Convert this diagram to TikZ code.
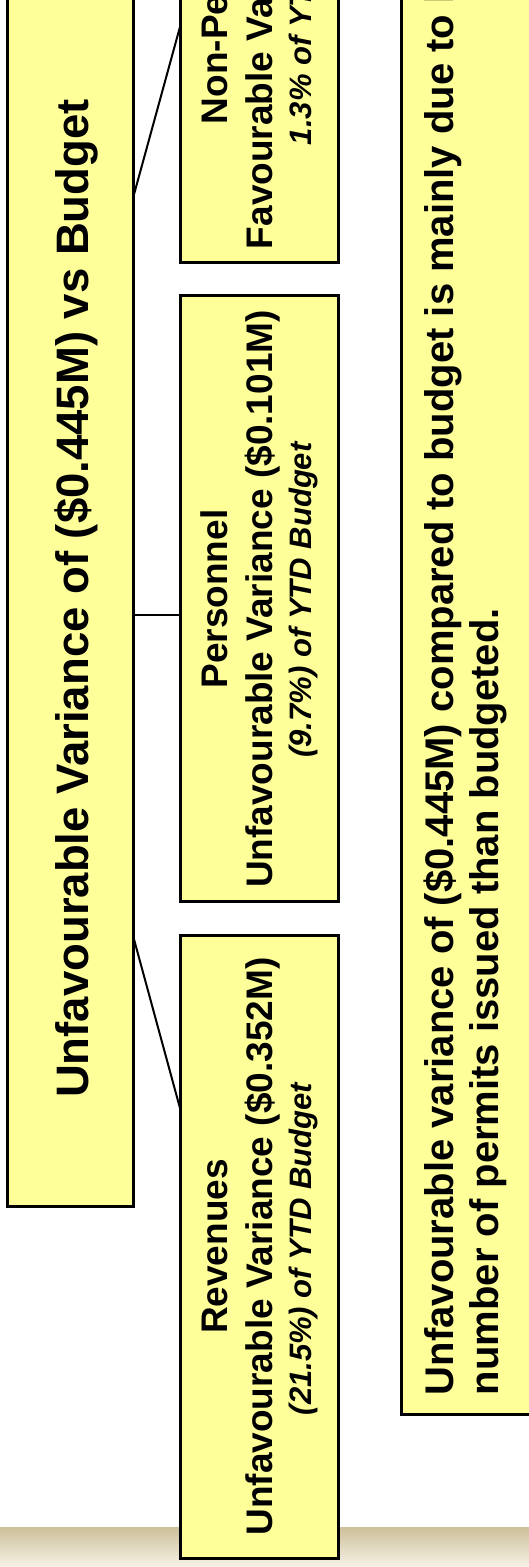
\documentclass[tikz,border=0pt]{standalone}
\usepackage{fontspec}
\setmainfont{Liberation Sans}
\definecolor{boxyellow}{RGB}{255,255,153}
\definecolor{bandtop}{RGB}{205,191,153}
\definecolor{bandbot}{RGB}{246,242,231}
\begin{document}
\begin{tikzpicture}[x=1pt,y=-1pt,
  box/.style={draw=black, line width=3pt, fill=boxyellow, inner sep=0pt, outer sep=0pt},
  conn/.style={draw=black, line width=2pt},
  txt/.style={rotate=90, inner sep=0pt, outer sep=0pt, text=black},
  titletxt/.style={txt, font=\fontsize{45.5}{50}\selectfont\bfseries},
  childb/.style={txt, font=\fontsize{37}{42}\selectfont\bfseries},
  childi/.style={txt, font=\fontsize{31}{35}\selectfont\bfseries\itshape},
  notetxt/.style={txt, font=\fontsize{40}{45}\selectfont\bfseries}]
\useasboundingbox (0,0) rectangle (529,1567);
\clip (0,0) rectangle (529,1567);
% background band
\fill[top color=bandtop, bottom color=bandbot, draw=none] (0,1527) rectangle (529,1567);
% boxes
\node[box, minimum width=126.3pt, minimum height=1246pt] (main) at (70.15,583) {};
\node[box, minimum width=158.3pt, minimum height=562.8pt] (np) at (259.65,-18.6) {};
\node[box, minimum width=158.3pt, minimum height=606pt] (pers) at (259.65,598.5) {};
\node[box, minimum width=158.3pt, minimum height=623pt] (rev) at (259.65,1246.5) {};
\node[box, minimum width=158.2pt, minimum height=1454.7pt] (note) at (480.9,687.35) {};
% connectors
\draw[conn] ([yshift=1009pt]main.south east) -- ([yshift=237.8pt]np.south west);
\draw[conn] ([yshift=591pt]main.south east) -- ([yshift=-16.5pt]pers.west);
\draw[conn] ([yshift=269.3pt]main.south east) -- ([yshift=-175pt]rev.north west);
% title
\node[titletxt, anchor=base] (tt) at (88,598.5) {Unfavourable Variance of (\$0.445M) vs Budget};
% non-personnel
\node[childb, anchor=base west] (n1) at (227,124) {Non-Personnel};
\node[childb, anchor=base west] (n2) at (272,249) {Favourable Variance};
\node[childi, anchor=base west] (n3) at (311,145) {1.3\% of YTD};
% personnel
\node[childb, anchor=base] (p1) at (227,599) {Personnel};
\node[childb, anchor=base] (p2) at (272,599) {Unfavourable Variance (\$0.101M)};
\node[childi, anchor=base] (p3) at (311,600) {(9.7\%) of YTD Budget};
% revenues
\node[childb, anchor=base] (r1) at (227,1246.5) {Revenues};
\node[childb, anchor=base] (r2) at (272,1246.5) {Unfavourable Variance (\$0.352M)};
\node[childi, anchor=base] (r3) at (311,1249) {(21.5\%) of YTD Budget};
% note
\node[notetxt, anchor=base west] (b1) at (453,1395) {Unfavourable variance of (\$0.445M) compared to budget is mainly due to lower};
\node[notetxt, anchor=base west] (b2) at (498,1395) {number of permits issued than budgeted.};
\end{tikzpicture}
\end{document}
